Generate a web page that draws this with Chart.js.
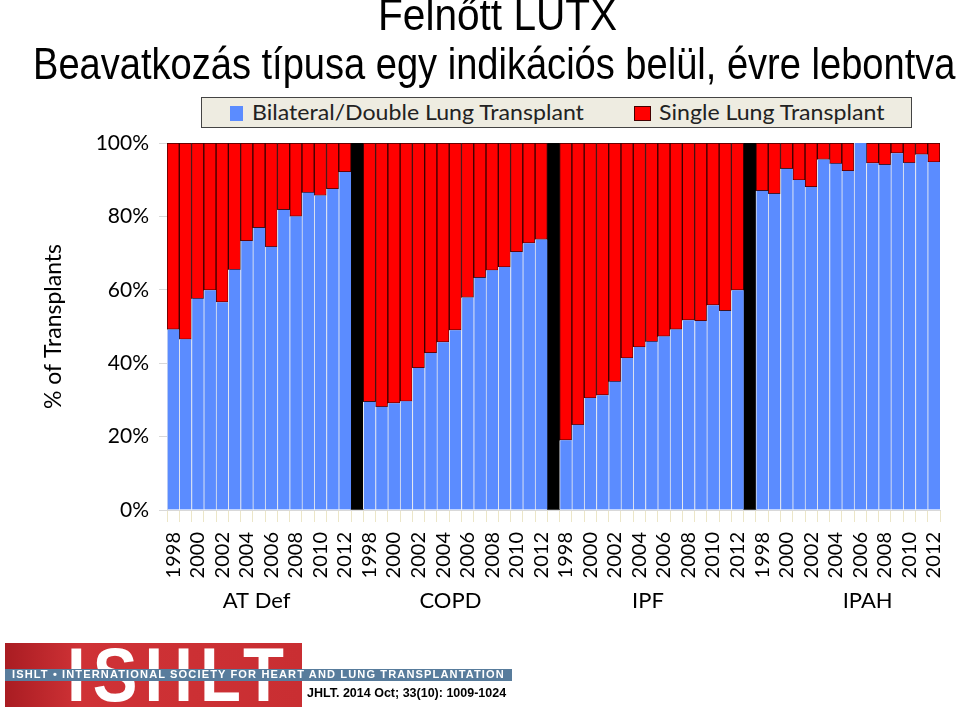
<!DOCTYPE html>
<html>
<head>
<meta charset="utf-8">
<script src="https://cdn.jsdelivr.net/npm/chart.js@4.4.1/dist/chart.umd.min.js"></script>
<style>
  html, body { margin: 0; padding: 0; background: #fff; }
  #wrap { position: relative; width: 960px; height: 711px; overflow: hidden; }
  #chart { position: absolute; left: 0; top: 0; }
  .fit { position: absolute; white-space: nowrap; transform-origin: 50% 50%; }
  .fitl { position: absolute; white-space: nowrap; transform-origin: 0 50%; }
  .title { font-family: 'Liberation Sans Narrow', 'Liberation Sans', Arial, sans-serif; font-size: 44px; line-height: 44px; color: #000; }
  #legend { position: absolute; left: 201px; top: 97px; width: 709px; height: 29px; background: #eeece1; border: 1px solid #444; font-family: Lato, sans-serif; font-size: 22px; color: #222; }
  #legend .sw { position: absolute; top: 8px; width: 13px; height: 15px; }
  #legend .tx { line-height: 24px; top: 2px; }
  #logo { position: absolute; left: 5px; top: 643px; width: 297px; height: 64px; background: linear-gradient(to right, #a91c22, #cf3236 25%, #c92e32); overflow: hidden; }
  #big { font: bold 76px 'Liberation Sans', Arial, sans-serif; line-height: 76px; color: #fff; letter-spacing: 8px; }
  #band { position: absolute; left: 5px; top: 669px; width: 507px; height: 12px; background: #587c9c; }
  #bandtx { font: bold 10px 'Liberation Sans', Arial, sans-serif; line-height: 12px; color: #fff; letter-spacing: 1px; }
  #ref { position: absolute; left: 307px; top: 686px; font: bold 12.5px 'Liberation Sans', Arial, sans-serif; color: #000; }
</style>
</head>
<body>
<div id="wrap">
  <canvas id="chart" width="960" height="711"></canvas>
  <div id="t1" class="fit title">Felnőtt LUTX</div>
  <div id="t2" class="fit title">Beavatkozás típusa egy indikációs belül, évre lebontva</div>
  <div id="legend">
    <div class="sw" style="left:28px;background:#5b8cff;"></div>
    <div id="lg1" class="fitl tx">Bilateral/Double Lung Transplant</div>
    <div class="sw" style="left:432px;width:17px;background:#ff0000;border:1px solid #400;box-sizing:border-box;"></div>
    <div id="lg2" class="fitl tx">Single Lung Transplant</div>
  </div>
  <div id="logo"><div id="big" class="fitl">ISHLT</div></div>
  <div id="band"></div>
  <div id="bandtx" class="fitl">ISHLT • INTERNATIONAL SOCIETY FOR HEART AND LUNG TRANSPLANTATION</div>
  <div id="ref">JHLT. 2014 Oct; 33(10): 1009-1024</div>
</div>
<script>
// adatok
const years = ['1998','1999','2000','2001','2002','2003','2004','2005','2006','2007','2008','2009','2010','2011','2012'];
const groups = ['AT Def', 'COPD', 'IPF', 'IPAH'];

const bilateralATDef = [49.2, 46.5, 57.6, 59.9, 56.6, 65.5, 73.3, 76.9, 71.7, 81.8, 80.0, 86.5, 85.7, 87.5, 92.1];
const singleATDef    = [50.8, 53.5, 42.4, 40.1, 43.4, 34.5, 26.7, 23.1, 28.3, 18.2, 20.0, 13.5, 14.3, 12.5, 7.9];
const bilateralCOPD  = [29.5, 28.1, 29.1, 29.6, 38.7, 42.8, 45.7, 49.0, 57.9, 63.3, 65.3, 66.2, 70.3, 72.7, 73.7];
const singleCOPD     = [70.5, 71.9, 70.9, 70.4, 61.3, 57.2, 54.3, 51.0, 42.1, 36.7, 34.7, 33.8, 29.7, 27.3, 26.3];
const bilateralIPF   = [19.0, 23.2, 30.5, 31.3, 35.0, 41.4, 44.4, 45.9, 47.3, 49.2, 51.7, 51.5, 55.8, 54.3, 59.9];
const singleIPF      = [81.0, 76.8, 69.5, 68.7, 65.0, 58.6, 55.6, 54.1, 52.7, 50.8, 48.3, 48.5, 44.2, 45.7, 40.1];
const bilateralIPAH  = [87.0, 86.2, 93.0, 89.9, 88.0, 95.5, 94.4, 92.4, 100, 94.5, 94.1, 97.2, 94.6, 96.9, 94.8];
const singleIPAH     = [13.0, 13.8, 7.0, 10.1, 12.0, 4.5, 5.6, 7.6, 0, 5.5, 5.9, 2.8, 5.4, 3.1, 5.2];

const yTicks = [0, 20, 40, 60, 80, 100];

const bilateral = [bilateralATDef, bilateralCOPD, bilateralIPF, bilateralIPAH];
const single = [singleATDef, singleCOPD, singleIPF, singleIPAH];

// kategoriak: 15 ev csoportonkent, kozottuk egy fekete elvalaszto oszlop
const labels = [];
const dBil = [], dSingle = [], dSep = [];
groups.forEach((g, gi) => {
  years.forEach((y, i) => {
    labels.push(y);
    dBil.push(bilateral[gi][i]);
    dSingle.push(single[gi][i]);
    dSep.push(null);
  });
  if (gi < groups.length - 1) {
    labels.push('');
    dBil.push(null);
    dSingle.push(null);
    dSep.push(100);
  }
});

// csoport nevek az evek alatt
const groupLabelPlugin = {
  id: 'groupLabels',
  afterDraw(chart, args, opts) {
    const { ctx, scales: { x } } = chart;
    ctx.save();
    ctx.font = '22px Lato, sans-serif';
    ctx.fillStyle = '#000';
    ctx.textAlign = 'center';
    ctx.textBaseline = 'alphabetic';
    groups.forEach((g, i) => {
      ctx.fillText(g, x.getPixelForValue(opts.at[i]), opts.y);
    });
    ctx.restore();
  }
};

const ctx = document.getElementById('chart').getContext('2d');
new Chart(ctx, {
  type: 'bar',
  data: {
    labels: labels,
    datasets: [
      {
        label: 'Bilateral/Double Lung Transplant',
        data: dBil,
        backgroundColor: '#5b8cff',
        borderColor: '#e6e8ee',
        borderWidth: { left: 1, right: 0, top: 0, bottom: 0 },
        borderSkipped: false,
        barPercentage: 1,
        categoryPercentage: 1
      },
      {
        label: 'Single Lung Transplant',
        data: dSingle,
        backgroundColor: '#ff0000',
        borderColor: '#3a0000',
        borderWidth: 1,
        borderSkipped: false,
        barPercentage: 1,
        categoryPercentage: 1
      },
      {
        label: 'sep',
        data: dSep,
        backgroundColor: '#000',
        borderWidth: 0,
        barPercentage: 1,
        categoryPercentage: 1
      }
    ]
  },
  options: {
    responsive: false,
    animation: false,
    layout: { padding: { left: 40, top: 143, right: 20, bottom: 0 } },
    plugins: {
      legend: { display: false },
      title: { display: false },
      tooltip: { enabled: false },
      groupLabels: { at: [6.8, 22.6, 38.7, 56.6], y: 608 }
    },
    scales: {
      x: {
        stacked: true,
        afterFit: s => { s.height = 201; s.paddingLeft = 0; s.paddingRight = 0; },
        grid: { drawOnChartArea: false, tickLength: 12, color: '#ece6c8', offset: true },
        border: { color: '#d9d9d9' },
        ticks: {
          autoSkip: false,
          maxRotation: 90,
          minRotation: 90,
          padding: 10,
          color: '#000',
          font: { family: 'Lato, sans-serif', size: 20 },
          callback: function (v) {
            const l = this.getLabelForValue(v);
            return (l && parseInt(l) % 2 === 0) ? l : '';
          }
        }
      },
      y: {
        stacked: true,
        min: 0,
        max: 100,
        afterFit: s => { s.width = 127; },
        afterBuildTicks: s => { s.ticks = yTicks.map(v => ({ value: v })); },
        grid: { drawOnChartArea: false, tickLength: 8, color: '#d9d9d9' },
        border: { color: '#d9d9d9' },
        ticks: {
          padding: 10,
          color: '#000',
          font: { family: 'Lato, sans-serif', size: 21 },
          callback: v => v + '%'
        },
        title: {
          display: true,
          text: '% of Transplants',
          color: '#000',
          font: { family: 'Lato, sans-serif', size: 23 },
          padding: { top: 0, bottom: 0 }
        }
      }
    }
  },
  plugins: [groupLabelPlugin]
});

// szovegek szelessegre igazitasa
function fit(id, cx, width, top) {
  const el = document.getElementById(id);
  const w = el.offsetWidth;
  el.style.left = (cx - w / 2) + 'px';
  el.style.top = top + 'px';
  el.style.transform = 'scaleX(' + (width / w) + ')';
}
function fitLeft(id, left, width, top) {
  const el = document.getElementById(id);
  const w = el.offsetWidth;
  el.style.left = left + 'px';
  el.style.top = top + 'px';
  el.style.transform = 'scaleX(' + (width / w) + ')';
}
fit('t1', 497, 239, -7);
fit('t2', 494, 922, 42);
fitLeft('lg1', 50, 332, 2);
fitLeft('lg2', 457, 226, 2);
fitLeft('big', 62, 224, -6);
fitLeft('bandtx', 12, 493, 669);
</script>
</body>
</html>
